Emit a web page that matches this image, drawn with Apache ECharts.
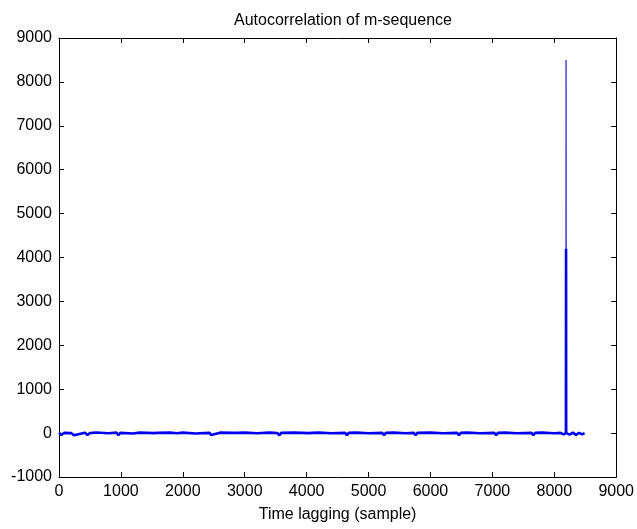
<!DOCTYPE html>
<html>
<head>
<meta charset="utf-8">
<script src="https://cdn.jsdelivr.net/npm/echarts@6/dist/echarts.min.js"></script>
<style>
  html, body { margin: 0; padding: 0; background: #fff; }
  #chart { width: 637px; height: 529px; }
</style>
</head>
<body>
<div id="chart"></div>
<script>
// lag (samples) and autocorrelation values
var lags = [0, 40, 80, 200, 240, 420, 460, 500, 600, 800,
  930, 960, 990, 1200, 1300, 1530, 1560, 1590, 1800, 1900,
  2000, 2200, 2430, 2460, 2490, 2600, 2820, 2850, 2880, 3000,
  3200, 3400, 3530, 3560, 3590, 3800, 4030, 4060, 4090, 4200,
  4400, 4620, 4650, 4680, 4800, 5000, 5220, 5250, 5280, 5400,
  5600, 5730, 5760, 5790, 6000, 6200, 6430, 6460, 6490, 6600,
  6800, 7030, 7060, 7090, 7200, 7400, 7630, 7660, 7690, 7800,
  8000, 8100, 8150, 8188, 8190, 8192, 8250, 8300, 8350, 8400,
  8450, 8490]
var corr = [10, -45, 5, 0, -50, 10, -45, 0, 15, -5,
  10, -50, 5, -10, 10, 0, -45, 5, 10, -5,
  10, -10, 5, -45, 0, 10, 5, -40, 5, 10,
  -5, 10, 0, -50, 5, 10, 0, -45, 5, 10,
  -5, 5, -45, 5, 10, -5, 5, -45, 5, 10,
  -5, 5, -45, 5, 10, -5, 5, -45, 5, 10,
  -5, 5, -45, 5, 10, -5, 5, -45, 5, 10,
  -5, 5, -30, 0, 4200, 0, -35, 10, -40, 5,
  -30, 0]

// main peak at zero lag
var peakLags = [8188, 8190, 8192]
var peakVals = [0, 8500, 0]

var xTicks = { min: 0, max: 9000, interval: 1000 }
var yTicks = { min: -1000, max: 9000, interval: 1000 }

function pairs(xs, ys) {
  var res = []
  for (var i = 0; i < xs.length; i++) {
    res.push([xs[i], ys[i]])
  }
  return res
}

var chart = echarts.init(document.getElementById('chart'))

var labelFont = {
  color: '#000',
  fontSize: 16,
  fontFamily: 'Liberation Sans, Arial, sans-serif'
}

function boxAxis(pos, ticks, showLabel, extra) {
  var ax = {
    type: 'value',
    position: pos,
    min: ticks.min,
    max: ticks.max,
    interval: ticks.interval,
    axisLine: { show: true, onZero: false, lineStyle: { color: '#000', width: 1 } },
    axisTick: { show: true, inside: true, length: 5, lineStyle: { color: '#000' } },
    splitLine: { show: false },
    axisLabel: Object.assign({
      show: showLabel,
      margin: 7,
      formatter: function (v) { return String(v) }
    }, labelFont)
  }
  return Object.assign(ax, extra || {})
}

var option = {
  animation: false,
  backgroundColor: '#fff',
  title: {
    text: 'Autocorrelation of m-sequence',
    left: 338,
    textAlign: 'center',
    top: 8,
    textStyle: {
      color: '#000',
      fontSize: 16,
      fontWeight: 'normal',
      fontFamily: 'Liberation Sans, Arial, sans-serif'
    }
  },
  grid: { left: 59, right: 19, top: 38, bottom: 52, containLabel: false },
  xAxis: [
    boxAxis('bottom', xTicks, true, {
      name: 'Time lagging (sample)',
      nameLocation: 'middle',
      nameGap: 30,
      nameTextStyle: labelFont
    }),
    boxAxis('top', xTicks, false)
  ],
  yAxis: [
    boxAxis('left', yTicks, true),
    boxAxis('right', yTicks, false)
  ],
  series: [
    {
      type: 'line',
      data: pairs(lags, corr),
      showSymbol: false,
      lineStyle: { color: '#0000ee', width: 2.6 },
      z: 3
    },
    {
      type: 'line',
      data: pairs(peakLags, peakVals),
      showSymbol: false,
      lineStyle: { color: '#2a2ad0', width: 1.3 },
      z: 2
    }
  ]
}

chart.setOption(option, true)
</script>
</body>
</html>
